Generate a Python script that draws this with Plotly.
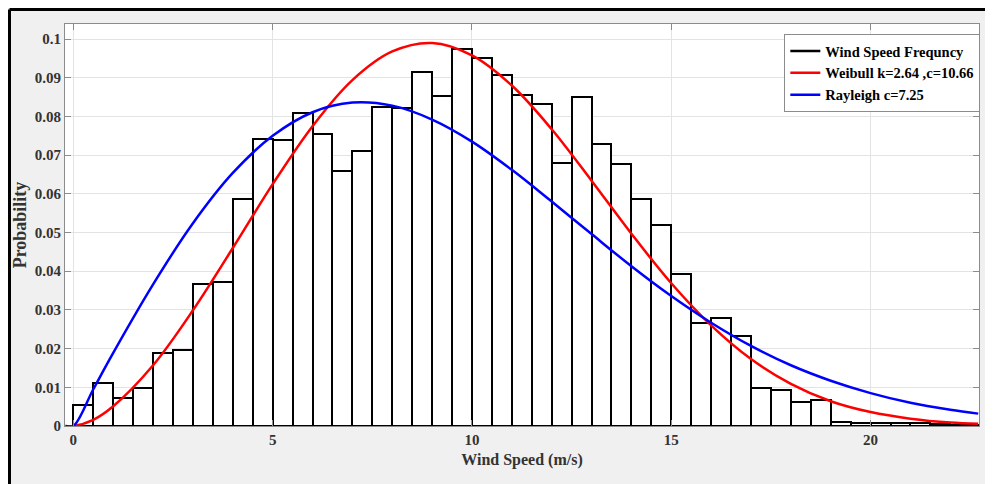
import plotly.graph_objects as go

# histogram bins (left edges, width 0.5 m/s) and their probabilities
bin_starts = [0.0, 0.5, 1.0, 1.5, 2.0, 2.5, 3.0, 3.5, 4.0, 4.5,
              5.0, 5.5, 6.0, 6.5, 7.0, 7.5, 8.0, 8.5, 9.0, 9.5,
              10.0, 10.5, 11.0, 11.5, 12.0, 12.5, 13.0, 13.5, 14.0, 14.5,
              15.0, 15.5, 16.0, 16.5, 17.0, 17.5, 18.0, 18.5, 19.0, 19.5,
              20.0, 20.5, 21.0, 21.5, 22.0, 22.5]
freq = [0.0054, 0.0112, 0.0072, 0.0099, 0.0188, 0.0197, 0.0368, 0.0372, 0.0586, 0.0742,
        0.0738, 0.0809, 0.0756, 0.0658, 0.0711, 0.0824, 0.0821, 0.0915, 0.0854, 0.0975,
        0.0952, 0.0908, 0.0855, 0.0832, 0.0681, 0.0851, 0.0730, 0.0677, 0.0587, 0.0519,
        0.0394, 0.0265, 0.0278, 0.0233, 0.0099, 0.0093, 0.0063, 0.0067, 0.0010, 0.0007,
        0.0009, 0.0009, 0.0008, 0.0005, 0.0003, 0.0002]

# fitted curves
curve_x = [-0.2, 0, 0.5, 1, 2, 3, 4, 5, 6, 7, 8, 9, 10, 11, 12, 13, 14, 15,
           16, 17, 18, 19, 20, 21, 22, 22.7]
weibull = [0, 0, 0.0016, 0.0051, 0.0157, 0.0299, 0.0460, 0.0625, 0.0775, 0.0894,
           0.0968, 0.0990, 0.0958, 0.0880, 0.0767, 0.0634, 0.0497, 0.0369, 0.0260,
           0.0173, 0.0109, 0.0064, 0.0036, 0.0019, 0.0009, 0.0006]
rayleigh = [0, 0, 0.0095, 0.0189, 0.0366, 0.0524, 0.0654, 0.0750, 0.0811, 0.0836,
            0.0828, 0.0792, 0.0735, 0.0662, 0.0580, 0.0496, 0.0413, 0.0336, 0.0267,
            0.0207, 0.0157, 0.0117, 0.0085, 0.0060, 0.0042, 0.0032]

FONT = "Liberation Serif"

fig = go.Figure()

fig.add_trace(go.Bar(
    x=bin_starts, y=freq, width=0.5, offset=0,
    marker=dict(color="white", line=dict(color="black", width=2)),
    showlegend=False, hoverinfo="x+y"
))
# legend entry for histogram drawn as a line, like the original
fig.add_trace(go.Scatter(
    x=[None], y=[None], mode="lines",
    line=dict(color="black", width=2.5),
    name="<b>Wind Speed Frequncy</b>"
))
fig.add_trace(go.Scatter(
    x=curve_x, y=weibull, mode="lines",
    line=dict(color="#ff0000", width=2.5, shape="spline"),
    name="<b>Weibull k=2.64 ,c=10.66</b>"
))
fig.add_trace(go.Scatter(
    x=curve_x, y=rayleigh, mode="lines",
    line=dict(color="#0000ff", width=2.5, shape="spline"),
    name="<b>Rayleigh c=7.25</b>"
))

axis_common = dict(
    showline=True, linecolor="#8c8c8c", linewidth=1, mirror="ticks",
    ticks="inside", ticklen=6, tickcolor="#8c8c8c",
    showgrid=True, gridcolor="#e3e3e3", gridwidth=1,
    zeroline=False, automargin=False,
    tickfont=dict(family=FONT, size=15, color="#333333"),
)

fig.update_xaxes(
    range=[-0.21, 22.72], tick0=0, dtick=5, tickprefix="<b>", ticksuffix="</b>",
    title=dict(text="<b>Wind Speed (m/s)</b>", standoff=6,
               font=dict(family=FONT, size=16, color="#333333")),
    **axis_common
)
fig.update_yaxes(
    range=[0, 0.1039], tick0=0, dtick=0.01, tickprefix="<b>", ticksuffix="</b>",
    title=dict(text="<b>Probability</b>", standoff=3,
               font=dict(family=FONT, size=18, color="#333333")),
    **axis_common
)

# page body margin puts the figure at (8, 8); plot box sits at 65..979 x 24..426 on screen
fig.update_layout(
    width=993, height=484,
    margin=dict(l=57, r=22, t=16, b=66),
    paper_bgcolor="#f0f0f0", plot_bgcolor="white",
    bargap=0,
    legend=dict(
        x=0.787, y=0.975, xanchor="left", yanchor="top",
        bgcolor="white", bordercolor="#8c8c8c", borderwidth=1,
        font=dict(family=FONT, size=14.5, color="black"),
        tracegroupgap=0,
    ),
    shapes=[
        # black frame round the figure
        dict(type="line", xref="paper", yref="paper",
             x0=-55.5 / 914, x1=1.05, y0=1 + 14.5 / 402, y1=1 + 14.5 / 402,
             line=dict(color="black", width=3), layer="above"),
        dict(type="line", xref="paper", yref="paper",
             x0=-55.5 / 914, x1=-55.5 / 914, y0=-0.2, y1=1 + 14.5 / 402,
             line=dict(color="black", width=3), layer="above"),
    ],
)

fig.write_html("out.html")
